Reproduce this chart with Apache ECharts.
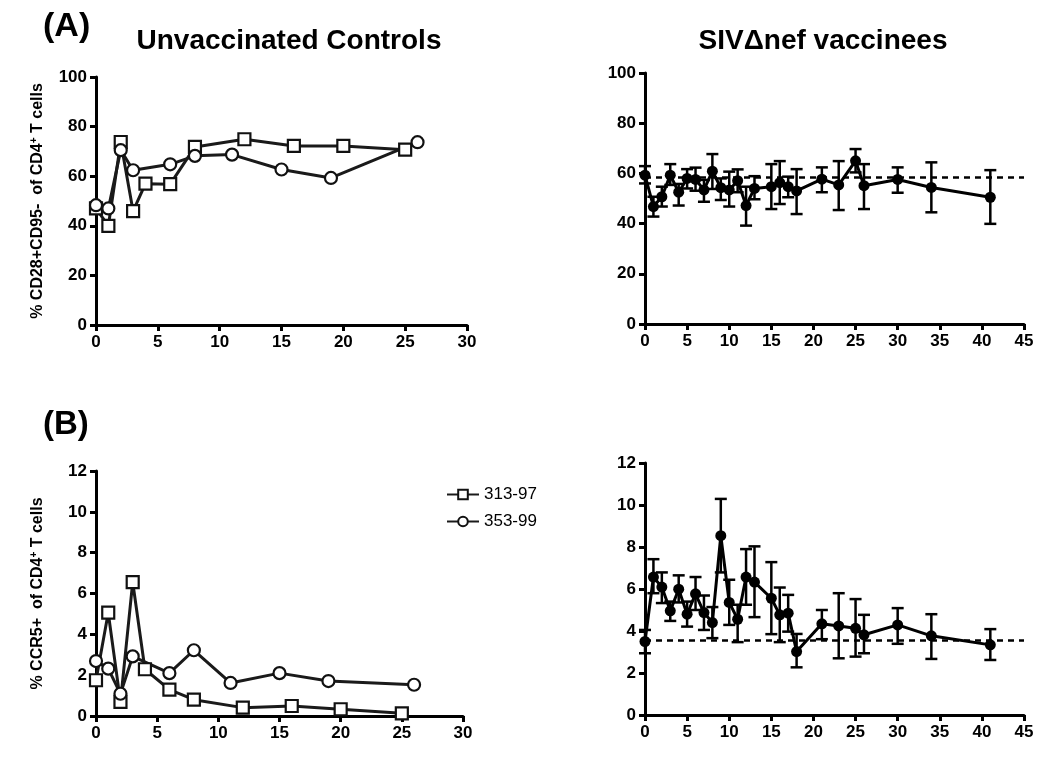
<!DOCTYPE html>
<html>
<head>
<meta charset="utf-8">
<script src="https://cdn.jsdelivr.net/npm/echarts@6/dist/echarts.min.js"></script>
<style>
html,body{margin:0;padding:0;background:#fff;}
#chart{width:1050px;height:759px;}
</style>
</head>
<body>
<div id="chart"></div>
<script>
// ---- Data ----
const ctrl313Weeks = [0, 1, 2, 3, 4, 6, 8, 12, 16, 20, 25];
const ctrl313CD28 = [47, 40, 73.8, 45.9, 57, 56.8, 71.8, 74.9, 72.2, 72.2, 70.7];
const ctrl313CCR5 = [1.75, 5.06, 0.69, 6.56, 2.29, 1.29, 0.8, 0.41, 0.49, 0.33, 0.13];

const ctrl353Weeks = [0, 1, 2, 3, 6, 8, 11, 15, 19, 26];
const ctrl353CD28 = [48.3, 47, 70.5, 62.4, 64.8, 68.2, 68.7, 62.7, 59.3, 73.7];
const ctrl353CCR5 = [2.69, 2.32, 1.09, 2.92, 2.1, 3.22, 1.62, 2.1, 1.71, 1.53];

const vacWeeks = [0, 1, 2, 3, 4, 5, 6, 7, 8, 9, 10, 11, 12, 13, 15, 16, 17, 18, 21, 23, 25, 26, 30, 34, 41];
const vacCD28Mean = [59.3, 46.8, 50.7, 59.3, 52.5, 58, 57.6, 53.4, 60.9, 54.3, 53.4, 57.1, 47.2, 54, 54.7, 56.3, 54.7, 53, 57.7, 55.4, 65, 55.1, 57.6, 54.4, 50.5];
const vacCD28Upper = [62.9, 50.7, 54.7, 63.7, 55.8, 61.7, 62.3, 57.4, 67.7, 58, 60.7, 61.6, 54.7, 58.9, 63.7, 64.9, 58.7, 61.7, 62.4, 64.9, 69.7, 63.7, 62.4, 64.4, 61.3];
const vacCD28Lower = [56, 42.8, 46.8, 55.4, 47.2, 54, 53.1, 48.7, 53.8, 49.4, 46.8, 52.5, 39.2, 49.7, 45.8, 47.8, 50.5, 43.8, 52.5, 45.4, 60.4, 45.8, 52.3, 44.5, 39.9];

const vacCCR5Mean = [3.5, 6.57, 6.09, 4.96, 5.99, 4.8, 5.77, 4.88, 4.4, 8.54, 5.36, 4.56, 6.57, 6.33, 5.56, 4.77, 4.85, 3.02, 4.34, 4.24, 4.13, 3.82, 4.29, 3.77, 3.34];
const vacCCR5Upper = [4.05, 7.42, 6.79, 5.4, 6.65, 5.4, 6.57, 5.69, 5.14, 10.29, 6.44, 5.25, 7.9, 8.03, 7.28, 6.07, 5.72, 3.86, 5.0, 5.8, 5.52, 4.77, 5.09, 4.8, 4.09];
const vacCCR5Lower = [2.94, 5.8, 5.33, 4.48, 5.36, 4.21, 5.0, 4.05, 3.66, 6.79, 4.29, 3.47, 5.25, 4.66, 3.85, 3.47, 3.97, 2.27, 3.61, 2.7, 2.78, 2.94, 3.39, 2.67, 2.62];

const cd28Baseline = 58.4;
const ccr5Baseline = 3.56;

const seriesNames = ['313-97', '353-99'];
const panelTitles = ['Unvaccinated Controls', 'SIV\u0394nef vaccinees'];
const panelLetters = ['(A)', '(B)'];

// ---- Helpers ----
const zip = (xs, ys) => xs.map((x, i) => [x, ys[i]]);
const zip3 = (xs, a, b) => xs.map((x, i) => [x, a[i], b[i]]);
const FONT = 'Liberation Sans, Arial, Helvetica, sans-serif';
const BLACK = '#000';

function xAxisCfg(gridIndex, max) {
  return {
    gridIndex, type: 'value', min: 0, max, interval: 5,
    axisLine: { show: true, onZero: false, lineStyle: { color: BLACK, width: 3 } },
    axisTick: { show: true, length: 6, lineStyle: { color: BLACK, width: 3 } },
    axisLabel: { color: BLACK, fontSize: 17, fontWeight: 'bold', fontFamily: FONT, margin: 9 },
    splitLine: { show: false }
  };
}
function yAxisCfg(gridIndex, max, interval, name) {
  return {
    gridIndex, type: 'value', min: 0, max, interval,
    name: name || '', nameLocation: 'middle', nameGap: 49,
    nameTextStyle: {
      color: BLACK, fontSize: 16, fontWeight: 'bold', fontFamily: FONT,
      rich: { sup: { fontSize: 10, fontWeight: 'bold', fontFamily: FONT, color: BLACK, verticalAlign: 'top', padding: [0, 0, 8, 0] } }
    },
    axisLine: { show: true, onZero: false, lineStyle: { color: BLACK, width: 3 } },
    axisTick: { show: true, length: 6, lineStyle: { color: BLACK, width: 3 } },
    axisLabel: { color: BLACK, fontSize: 17, fontWeight: 'bold', fontFamily: FONT, margin: 9 },
    splitLine: { show: false }
  };
}
function errRender(params, api) {
  const x = api.value(0);
  const lo = api.coord([x, api.value(1)]);
  const hi = api.coord([x, api.value(2)]);
  const h = 6;
  const style = { stroke: BLACK, lineWidth: 2.5 };
  return {
    type: 'group',
    children: [
      { type: 'line', shape: { x1: hi[0], y1: hi[1], x2: lo[0], y2: lo[1] }, style },
      { type: 'line', shape: { x1: hi[0] - h, y1: hi[1], x2: hi[0] + h, y2: hi[1] }, style },
      { type: 'line', shape: { x1: lo[0] - h, y1: lo[1], x2: lo[0] + h, y2: lo[1] }, style }
    ]
  };
}
function ctrlSeries(name, idx, data, symbol) {
  return {
    name, type: 'line', xAxisIndex: idx, yAxisIndex: idx, data,
    symbol, symbolSize: 12, showSymbol: true,
    lineStyle: { color: '#1a1a1a', width: 3 },
    itemStyle: { color: '#fff', borderColor: '#111', borderWidth: 2.2 },
    z: 3
  };
}
function vacSeries(idx, data, base) {
  return {
    type: 'line', xAxisIndex: idx, yAxisIndex: idx, data,
    symbol: 'circle', symbolSize: 11,
    lineStyle: { color: BLACK, width: 3 },
    itemStyle: { color: BLACK },
    z: 4,
    markLine: {
      silent: true, symbol: 'none', animation: false,
      label: { show: false },
      lineStyle: { color: BLACK, width: 2.5, type: [6, 5] },
      data: [{ yAxis: base }]
    }
  };
}

const chart = echarts.init(document.getElementById('chart'), null, { renderer: 'canvas' });
const option = {
  backgroundColor: '#fff',
  animation: false,
  title: [
    { text: panelLetters[0], left: 38, top: 5, textStyle: { fontSize: 34, fontWeight: 'bold', fontFamily: FONT, color: BLACK } },
    { text: panelTitles[0], left: 284, textAlign: 'center', top: 22, textStyle: { fontSize: 28, fontWeight: 'bold', fontFamily: FONT, color: BLACK } },
    { text: panelTitles[1], left: 818, textAlign: 'center', top: 22, textStyle: { fontSize: 28, fontWeight: 'bold', fontFamily: FONT, color: BLACK } },
    { text: panelLetters[1], left: 38, top: 403, textStyle: { fontSize: 33, fontWeight: 'bold', fontFamily: FONT, color: BLACK } }
  ],
  legend: {
    data: seriesNames, orient: 'vertical', left: 441, top: 481,
    itemWidth: 32, itemHeight: 12, itemGap: 10,
    textStyle: { fontSize: 17, color: BLACK, fontFamily: FONT }
  },
  grid: [
    { left: 96, top: 77, width: 371, height: 248 },
    { left: 645, top: 73, width: 379, height: 251 },
    { left: 96, top: 471, width: 367, height: 245 },
    { left: 645, top: 463, width: 379, height: 252 }
  ],
  xAxis: [xAxisCfg(0, 30), xAxisCfg(1, 45), xAxisCfg(2, 30), xAxisCfg(3, 45)],
  yAxis: [
    yAxisCfg(0, 100, 20, '% CD28+CD95-  of CD4{sup|+} T cells'),
    yAxisCfg(1, 100, 20),
    yAxisCfg(2, 12, 2, '% CCR5+  of CD4{sup|+} T cells'),
    yAxisCfg(3, 12, 2)
  ],
  series: [
    ctrlSeries(seriesNames[0], 0, zip(ctrl313Weeks, ctrl313CD28), 'rect'),
    ctrlSeries(seriesNames[1], 0, zip(ctrl353Weeks, ctrl353CD28), 'circle'),
    ctrlSeries(seriesNames[0], 2, zip(ctrl313Weeks, ctrl313CCR5), 'rect'),
    ctrlSeries(seriesNames[1], 2, zip(ctrl353Weeks, ctrl353CCR5), 'circle'),
    { type: 'custom', xAxisIndex: 1, yAxisIndex: 1, renderItem: errRender, data: zip3(vacWeeks, vacCD28Lower, vacCD28Upper), z: 2 },
    vacSeries(1, zip(vacWeeks, vacCD28Mean), cd28Baseline),
    { type: 'custom', xAxisIndex: 3, yAxisIndex: 3, renderItem: errRender, data: zip3(vacWeeks, vacCCR5Lower, vacCCR5Upper), z: 2 },
    vacSeries(3, zip(vacWeeks, vacCCR5Mean), ccr5Baseline)
  ]
};
chart.setOption(option);
</script>
</body>
</html>
